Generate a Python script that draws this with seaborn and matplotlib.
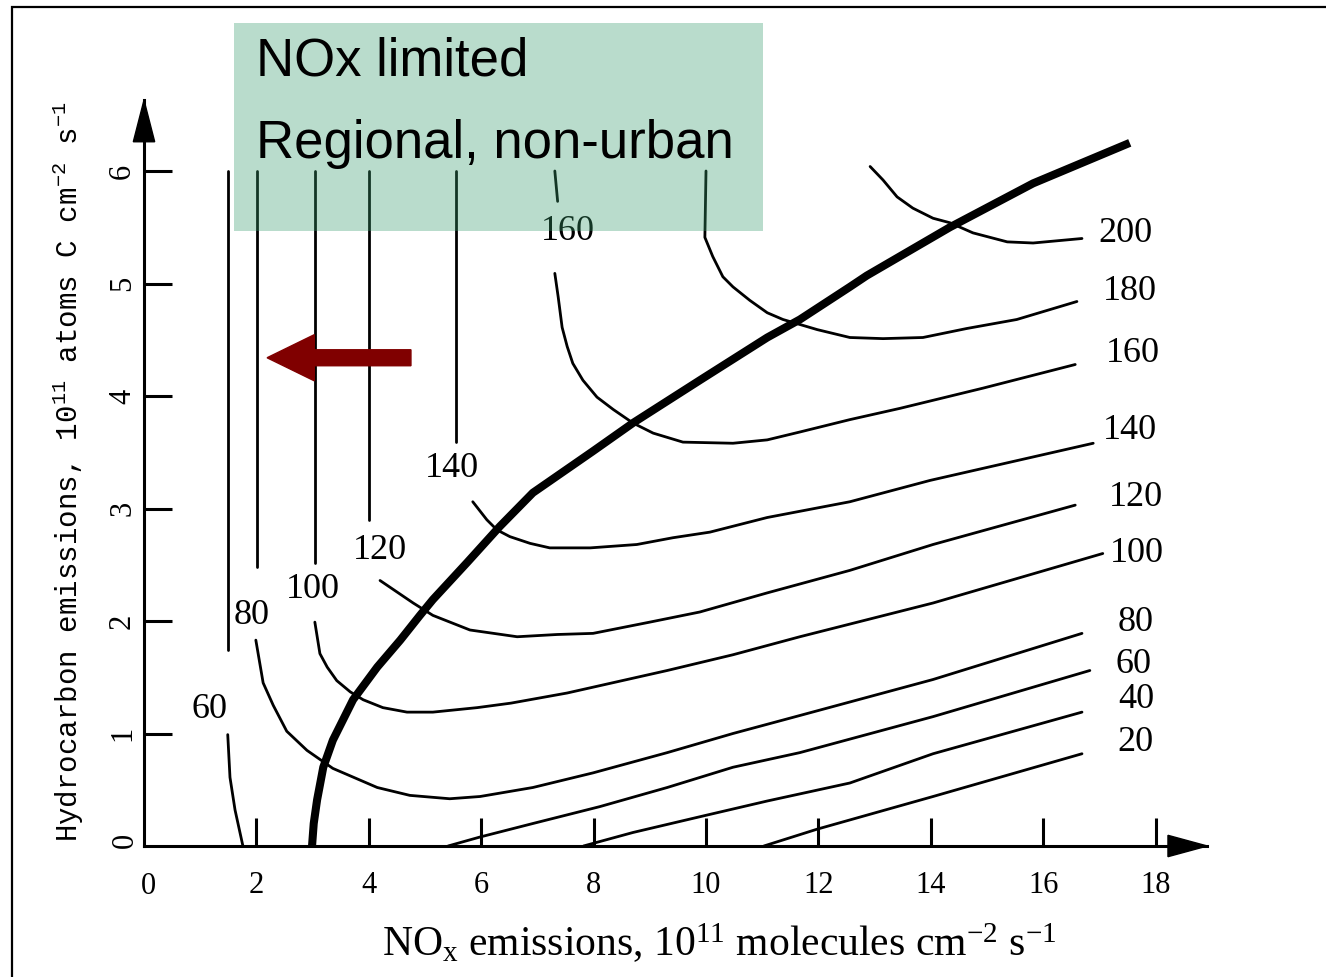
import numpy as np
import pandas as pd
import seaborn as sns
import matplotlib
matplotlib.use("Agg")
import matplotlib.pyplot as plt
from matplotlib.patches import Rectangle, Polygon, FancyArrow

# ---------------- data ----------------
x_ticks = [2, 4, 6, 8, 10, 12, 14, 16, 18]
x_ticklabels = ["2", "4", "6", "8", "10", "12", "14", "16", "18"]
y_ticks = [1, 2, 3, 4, 5, 6]
y_ticklabels = ["1", "2", "3", "4", "5", "6"]

# thick ridge line
ridge_x = [2.99, 3.02, 3.08, 3.19, 3.36, 3.72, 4.15, 4.56, 4.91, 5.14, 5.75, 6.33,
           6.92, 7.99, 8.70, 9.89, 11.09, 11.67, 12.56, 12.86, 14.34, 15.82, 17.54]
ridge_y = [0.00, 0.20, 0.41, 0.70, 0.94, 1.30, 1.59, 1.83, 2.05, 2.19, 2.52, 2.84,
           3.14, 3.51, 3.76, 4.14, 4.52, 4.68, 4.97, 5.07, 5.50, 5.89, 6.25]

# ozone isopleths (ppb)
iso20_x = [11.03, 11.98, 14.04, 16.69]
iso20_y = [0.00, 0.15, 0.44, 0.82]

iso40_x = [7.82, 8.70, 9.89, 11.09, 12.56, 14.04, 16.69]
iso40_y = [0.00, 0.12, 0.26, 0.40, 0.56, 0.82, 1.19]

iso60_top_x = [1.49, 1.49]
iso60_top_y = [6.00, 1.74]
iso60_low_x = [1.49, 1.53, 1.62, 1.76]
iso60_low_y = [0.99, 0.61, 0.32, 0.00]
iso60_right_x = [5.41, 5.98, 6.92, 8.11, 9.31, 10.48, 11.67, 14.04, 16.83]
iso60_right_y = [0.00, 0.08, 0.20, 0.35, 0.52, 0.70, 0.83, 1.15, 1.56]

iso80_top_x = [2.01, 2.01]
iso80_top_y = [6.00, 2.48]
iso80_x = [1.99, 2.12, 2.30, 2.54, 2.90, 3.36, 4.15, 4.73, 5.44, 5.98, 6.92, 7.99,
           9.31, 10.48, 11.67, 14.04, 16.69]
iso80_y = [1.83, 1.45, 1.25, 1.02, 0.85, 0.69, 0.52, 0.45, 0.42, 0.44, 0.52, 0.65,
           0.83, 1.00, 1.16, 1.48, 1.89]

iso100_top_x = [3.04, 3.04]
iso100_top_y = [6.00, 2.52]
iso100_x = [3.04, 3.13, 3.26, 3.43, 3.67, 3.90, 4.25, 4.68, 5.14, 5.93, 6.53, 7.53,
            9.31, 10.48, 11.67, 14.04, 17.06]
iso100_y = [1.99, 1.71, 1.59, 1.47, 1.37, 1.30, 1.23, 1.19, 1.19, 1.23, 1.27, 1.36,
            1.56, 1.70, 1.86, 2.16, 2.60]

iso120_top_x = [4.00, 4.00]
iso120_top_y = [6.00, 2.90]
iso120_x = [4.20, 4.79, 5.14, 5.80, 6.64, 7.35, 7.99, 9.00, 9.89, 11.09, 12.56, 14.04, 16.57]
iso120_y = [2.36, 2.16, 2.05, 1.92, 1.86, 1.88, 1.89, 1.99, 2.08, 2.25, 2.45, 2.68, 3.03]

iso140_top_x = [5.55, 5.55]
iso140_top_y = [6.00, 3.59]
iso140_x = [5.85, 6.10, 6.28, 6.51, 6.87, 7.22, 7.94, 8.77, 9.41, 10.07, 11.09, 12.56,
            13.99, 16.89]
iso140_y = [3.06, 2.90, 2.81, 2.75, 2.69, 2.65, 2.65, 2.68, 2.74, 2.79, 2.92, 3.06,
            3.25, 3.58]

iso160_top_x = [7.31, 7.36]
iso160_top_y = [6.00, 5.73]
iso160_x = [7.31, 7.37, 7.44, 7.53, 7.63, 7.81, 8.06, 8.35, 8.70, 9.06, 9.59, 10.48,
            11.09, 11.67, 12.56, 13.45, 14.93, 16.57]
iso160_y = [5.09, 4.88, 4.61, 4.44, 4.29, 4.14, 3.99, 3.88, 3.76, 3.67, 3.59, 3.58,
            3.61, 3.68, 3.79, 3.89, 4.07, 4.28]

iso180_x = [10.00, 9.98, 10.12, 10.30, 10.48, 10.78, 11.09, 11.37, 11.98, 12.56, 13.15,
            13.86, 14.64, 15.53, 16.60]
iso180_y = [6.00, 5.41, 5.24, 5.06, 4.97, 4.85, 4.74, 4.68, 4.59, 4.52, 4.51,
            4.52, 4.60, 4.68, 4.84]

iso200_x = [12.92, 13.15, 13.40, 13.68, 14.04, 14.34, 14.75, 15.36, 15.82, 16.69]
iso200_y = [6.04, 5.92, 5.77, 5.67, 5.58, 5.54, 5.45, 5.37, 5.36, 5.40]

# isopleth labels
right_labels = ["200", "180", "160", "140", "120", "100", "80", "60", "40", "20"]
right_label_x = [17.46, 17.54, 17.60, 17.54, 17.65, 17.67, 17.65, 17.60, 17.65, 17.65]
right_label_y = [5.44, 4.93, 4.38, 3.69, 3.10, 2.60, 1.99, 1.61, 1.30, 0.92]
left_labels = ["60", "80", "100", "120", "140", "160"]
left_label_x = [1.16, 1.92, 3.01, 4.20, 5.48, 7.54]
left_label_y = [1.21, 2.05, 2.28, 2.63, 3.36, 5.46]

# ---------------- long-form table for seaborn ----------------
segments = [
    ("20", iso20_x, iso20_y), ("40", iso40_x, iso40_y),
    ("60a", iso60_top_x, iso60_top_y), ("60b", iso60_low_x, iso60_low_y),
    ("60c", iso60_right_x, iso60_right_y),
    ("80a", iso80_top_x, iso80_top_y), ("80b", iso80_x, iso80_y),
    ("100a", iso100_top_x, iso100_top_y), ("100b", iso100_x, iso100_y),
    ("120a", iso120_top_x, iso120_top_y), ("120b", iso120_x, iso120_y),
    ("140a", iso140_top_x, iso140_top_y), ("140b", iso140_x, iso140_y),
    ("160a", iso160_top_x, iso160_top_y), ("160b", iso160_x, iso160_y),
    ("180", iso180_x, iso180_y), ("200", iso200_x, iso200_y),
]
rows = []
for name, xs, ys in segments:
    for i, (xv, yv) in enumerate(zip(xs, ys)):
        rows.append({"seg": name, "order": i, "x": xv, "y": yv})
iso_df = pd.DataFrame(rows)
ridge_df = pd.DataFrame({"x": ridge_x, "y": ridge_y})

# ---------------- style ----------------
sns.set_style("white")
plt.rcParams["font.family"] = ["Liberation Serif", "DejaVu Serif"]
plt.rcParams["mathtext.default"] = "regular"
for key in ["text.color", "axes.labelcolor", "xtick.color", "ytick.color"]:
    plt.rcParams[key] = "black"

W, H = 1326, 977
fig = plt.figure(figsize=(W / 100, H / 100), dpi=100)
fig.patch.set_facecolor("white")

# axes: x=0 at px 144, y=0 at px 846; 56.2 px per x unit, 112.5 px per y unit
ax_l, ax_r, ax_b, ax_t = 144, 1207, 846, 100
ax = fig.add_axes([ax_l / W, (H - ax_b) / H, (ax_r - ax_l) / W, (ax_b - ax_t) / H])
ax.set_xlim(0, (ax_r - ax_l) / 56.2)
ax.set_ylim(0, (ax_b - ax_t) / 112.5)
ax.set_facecolor("white")

sns.lineplot(data=iso_df, x="x", y="y", units="seg", estimator=None, sort=False,
             color="black", linewidth=2.0, legend=False, ax=ax, zorder=2,
             solid_joinstyle="round")
sns.lineplot(data=ridge_df, x="x", y="y", estimator=None, sort=False,
             color="black", linewidth=5.8, legend=False, ax=ax, zorder=3,
             solid_capstyle="butt", solid_joinstyle="round")

for s, xv, yv in zip(right_labels, right_label_x, right_label_y):
    ax.text(xv, yv, s, ha="center", va="center", fontsize=26, color="black",
            family="Liberation Serif", zorder=4)
for s, xv, yv in zip(left_labels, left_label_x, left_label_y):
    ax.text(xv, yv, s, ha="center", va="center", fontsize=26, color="black",
            family="Liberation Serif", zorder=4)

# dark red arrow pointing left
ax.add_patch(FancyArrow(4.75, 4.34, -(4.75 - 2.19), 0, width=0.142, head_width=0.41,
                        head_length=0.84, length_includes_head=True,
                        color="#800000", zorder=5, clip_on=False))

# spines / ticks
for side in ["top", "right"]:
    ax.spines[side].set_visible(False)
for side in ["left", "bottom"]:
    ax.spines[side].set_linewidth(2.2)
    ax.spines[side].set_color("black")
ax.set_xticks(x_ticks)
ax.set_xticklabels(x_ticklabels, fontsize=22, family="Liberation Serif")
ax.set_yticks(y_ticks)
ax.set_yticklabels(y_ticklabels, fontsize=22, family="Liberation Serif",
                   rotation=90, va="center")
ax.tick_params(axis="both", which="major", direction="in", length=20, width=2.2,
               color="black", bottom=True, left=True, top=False, right=False)
ax.tick_params(axis="x", pad=18)
ax.tick_params(axis="y", pad=5)
# zero labels at the origin
ax.text(0.08, -0.36, "0", ha="center", va="center", fontsize=22, color="black",
        family="Liberation Serif", clip_on=False)
ax.text(-0.34, 0.05, "0", ha="center", va="center", fontsize=22, rotation=90,
        color="black", family="Liberation Serif", clip_on=False)

# axis arrowheads
ax.add_patch(Polygon([[0, 6.63], [-0.19, 6.26], [0.19, 6.26]], closed=True,
                     color="black", clip_on=False, zorder=6))
ax.add_patch(Polygon([[18.92, 0], [18.22, 0.095], [18.22, -0.095]], closed=True,
                     color="black", clip_on=False, zorder=6))

ax.set_xlabel(r"NO$_x$ emissions, 10$^{11}$ molecules cm$^{-2}$ s$^{-1}$",
              fontsize=30, family="Liberation Serif", va="center", color="black")
ax.xaxis.set_label_coords((719 - ax_l) / (ax_r - ax_l), (ax_b - 943) / (ax_b - ax_t))
ax.set_ylabel(r"Hydrocarbon emissions, 10$^{11}$ atoms C cm$^{-2}$ s$^{-1}$",
              fontsize=21, family="Liberation Mono", va="center", color="black")
ax.yaxis.set_label_coords((68 - ax_l) / (ax_r - ax_l), (ax_b - 472) / (ax_b - ax_t))

# outer frame
fig.add_artist(Rectangle((12 / W, -0.05), 1.2, (1 - 7 / H) + 0.05, fill=False,
                         lw=1.6, ec="black", transform=fig.transFigure, zorder=1))

# translucent green annotation box with text
fig.add_artist(Rectangle((234 / W, 1 - 231 / H), (763 - 234) / W, (231 - 23) / H,
                         facecolor=(57 / 255, 156 / 255, 109 / 255), alpha=0.35,
                         lw=0, transform=fig.transFigure, zorder=5))
fig.text(256 / W, 1 - 76 / H, "NOx limited", fontsize=38, family="Liberation Sans",
         va="baseline", ha="left", color="black", zorder=6)
fig.text(256 / W, 1 - 158 / H, "Regional, non-urban", fontsize=38,
         family="Liberation Sans", va="baseline", ha="left", color="black", zorder=6)

fig.savefig("out.png", dpi=100)
